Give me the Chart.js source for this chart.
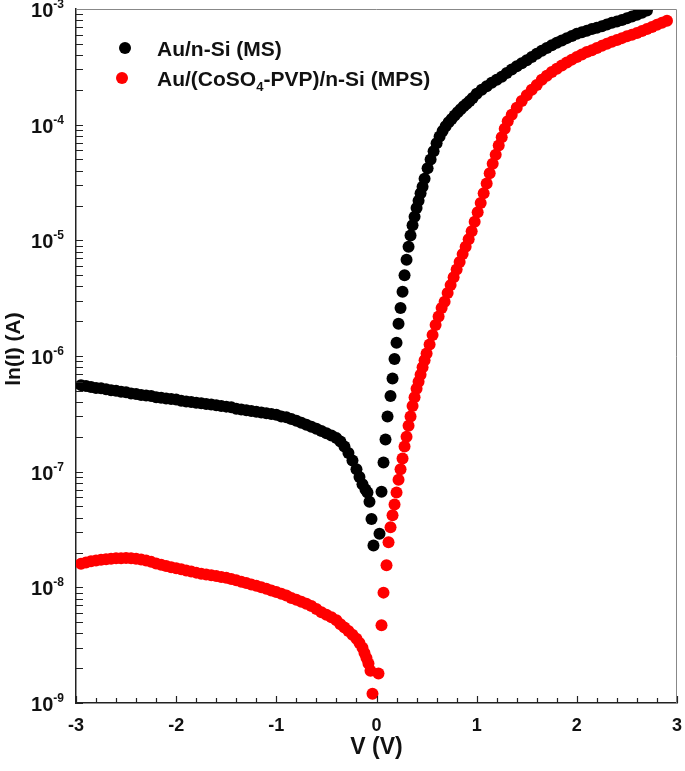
<!DOCTYPE html>
<html>
<head>
<meta charset="utf-8">
<script src="https://cdn.jsdelivr.net/npm/chart.js@4.4.1/dist/chart.umd.min.js"></script>
<style>
  html, body { margin: 0; padding: 0; background: #fff; }
  #wrap { width: 685px; height: 771px; }
</style>
</head>
<body>
<div id="wrap"><canvas id="ivChart" width="685" height="771"></canvas></div>
<script>
// Au/n-Si (MS) - voltage (V) and current (A)
const vMS = [-2.95, -2.90, -2.85, -2.80, -2.75, -2.70, -2.65, -2.60, -2.55, -2.50,
  -2.45, -2.40, -2.35, -2.30, -2.25, -2.20, -2.15, -2.10, -2.05, -2.00,
  -1.95, -1.90, -1.85, -1.80, -1.75, -1.70, -1.65, -1.60, -1.55, -1.50,
  -1.45, -1.40, -1.35, -1.30, -1.25, -1.20, -1.15, -1.10, -1.05, -1.00,
  -0.95, -0.90, -0.85, -0.80, -0.75, -0.70, -0.65, -0.60, -0.55, -0.50,
  -0.45, -0.40, -0.36, -0.32, -0.28, -0.24, -0.20, -0.17, -0.14, -0.11,
  -0.09, -0.07, -0.05, -0.03, 0.03, 0.05, 0.07, 0.09, 0.11, 0.14,
  0.16, 0.18, 0.20, 0.22, 0.24, 0.26, 0.28, 0.30, 0.32, 0.34,
  0.36, 0.38, 0.40, 0.42, 0.44, 0.46, 0.48, 0.51, 0.54, 0.57,
  0.60, 0.63, 0.66, 0.69, 0.72, 0.75, 0.78, 0.81, 0.84, 0.87,
  0.90, 0.93, 0.96, 1.00, 1.05, 1.10, 1.15, 1.20, 1.25, 1.30,
  1.35, 1.40, 1.45, 1.50, 1.55, 1.60, 1.65, 1.70, 1.75, 1.80,
  1.85, 1.90, 1.95, 2.00, 2.05, 2.10, 2.15, 2.20, 2.25, 2.30,
  2.35, 2.40, 2.45, 2.50, 2.55, 2.60, 2.65, 2.70];
const iMS = [5.6e-7, 5.5e-7, 5.4e-7, 5.3e-7, 5.25e-7, 5.15e-7, 5.05e-7, 5.0e-7, 4.9e-7, 4.85e-7,
  4.75e-7, 4.7e-7, 4.6e-7, 4.55e-7, 4.5e-7, 4.4e-7, 4.35e-7, 4.3e-7, 4.25e-7, 4.2e-7,
  4.1e-7, 4.05e-7, 4.0e-7, 3.95e-7, 3.9e-7, 3.85e-7, 3.8e-7, 3.75e-7, 3.7e-7, 3.65e-7,
  3.6e-7, 3.5e-7, 3.45e-7, 3.4e-7, 3.35e-7, 3.3e-7, 3.25e-7, 3.2e-7, 3.15e-7, 3.1e-7,
  3.0e-7, 2.95e-7, 2.85e-7, 2.75e-7, 2.65e-7, 2.55e-7, 2.45e-7, 2.35e-7, 2.25e-7, 2.15e-7,
  2.05e-7, 1.95e-7, 1.82e-7, 1.65e-7, 1.45e-7, 1.25e-7, 1.05e-7, 9.0e-8, 7.8e-8, 7.0e-8,
  6.6e-8, 5.5e-8, 3.9e-8, 2.3e-8, 2.9e-8, 6.7e-8, 1.2e-7, 1.9e-7, 3.0e-7, 4.5e-7,
  6.4e-7, 9.4e-7, 1.3e-6, 1.9e-6, 2.6e-6, 3.6e-6, 5.0e-6, 6.8e-6, 8.8e-6, 1.1e-5,
  1.35e-5, 1.6e-5, 1.9e-5, 2.2e-5, 2.55e-5, 2.9e-5, 3.4e-5, 4.2e-5, 5.0e-5, 5.9e-5,
  6.9e-5, 7.9e-5, 8.8e-5, 9.7e-5, 1.05e-4, 1.12e-4, 1.2e-4, 1.28e-4, 1.36e-4, 1.44e-4,
  1.52e-4, 1.6e-4, 1.7e-4, 1.85e-4, 2.0e-4, 2.15e-4, 2.3e-4, 2.45e-4, 2.6e-4, 2.8e-4,
  3.0e-4, 3.2e-4, 3.4e-4, 3.6e-4, 3.85e-4, 4.1e-4, 4.35e-4, 4.6e-4, 4.85e-4, 5.1e-4,
  5.35e-4, 5.6e-4, 5.85e-4, 6.1e-4, 6.3e-4, 6.5e-4, 6.7e-4, 6.9e-4, 7.1e-4, 7.35e-4,
  7.6e-4, 7.8e-4, 8.05e-4, 8.3e-4, 8.6e-4, 8.9e-4, 9.3e-4, 9.7e-4];

// Au/(CoSO4-PVP)/n-Si (MPS)
const vMPS = [-2.95, -2.90, -2.85, -2.80, -2.75, -2.70, -2.65, -2.60, -2.55, -2.50,
  -2.45, -2.40, -2.35, -2.30, -2.25, -2.20, -2.15, -2.10, -2.05, -2.00,
  -1.95, -1.90, -1.85, -1.80, -1.75, -1.70, -1.65, -1.60, -1.55, -1.50,
  -1.45, -1.40, -1.35, -1.30, -1.25, -1.20, -1.15, -1.10, -1.05, -1.00,
  -0.95, -0.90, -0.85, -0.80, -0.75, -0.70, -0.65, -0.60, -0.55, -0.50,
  -0.45, -0.40, -0.36, -0.32, -0.28, -0.24, -0.20, -0.17, -0.14, -0.12,
  -0.10, -0.08, -0.06, -0.04, 0.02, 0.05, 0.07, 0.10, 0.12, 0.14,
  0.16, 0.18, 0.20, 0.22, 0.24, 0.26, 0.28, 0.30, 0.32, 0.34,
  0.36, 0.38, 0.40, 0.42, 0.44, 0.46, 0.48, 0.50, 0.53, 0.56,
  0.59, 0.62, 0.65, 0.68, 0.71, 0.74, 0.77, 0.80, 0.83, 0.86,
  0.89, 0.92, 0.95, 0.98, 1.01, 1.04, 1.07, 1.10, 1.13, 1.16,
  1.19, 1.22, 1.25, 1.28, 1.31, 1.35, 1.40, 1.45, 1.50, 1.55,
  1.60, 1.65, 1.70, 1.75, 1.80, 1.85, 1.90, 1.95, 2.00, 2.05,
  2.10, 2.15, 2.20, 2.25, 2.30, 2.35, 2.40, 2.45, 2.50, 2.55,
  2.60, 2.65, 2.70, 2.75, 2.80, 2.85, 2.90];
const iMPS = [1.6e-8, 1.64e-8, 1.68e-8, 1.71e-8, 1.73e-8, 1.75e-8, 1.77e-8, 1.78e-8, 1.78e-8, 1.79e-8,
  1.78e-8, 1.77e-8, 1.74e-8, 1.71e-8, 1.66e-8, 1.61e-8, 1.57e-8, 1.53e-8, 1.49e-8, 1.46e-8,
  1.43e-8, 1.4e-8, 1.37e-8, 1.34e-8, 1.31e-8, 1.29e-8, 1.27e-8, 1.25e-8, 1.23e-8, 1.21e-8,
  1.18e-8, 1.15e-8, 1.12e-8, 1.09e-8, 1.06e-8, 1.03e-8, 1.0e-8, 9.7e-9, 9.4e-9, 9.1e-9,
  8.8e-9, 8.5e-9, 8.1e-9, 7.8e-9, 7.5e-9, 7.2e-9, 6.9e-9, 6.5e-9, 6.1e-9, 5.8e-9,
  5.5e-9, 5.2e-9, 4.8e-9, 4.5e-9, 4.2e-9, 3.9e-9, 3.6e-9, 3.3e-9, 3.0e-9, 2.7e-9,
  2.45e-9, 2.2e-9, 1.9e-9, 1.2e-9, 1.8e-9, 4.7e-9, 9.0e-9, 1.55e-8, 2.45e-8, 3.3e-8,
  4.2e-8, 5.2e-8, 6.6e-8, 8.5e-8, 1.05e-7, 1.3e-7, 1.65e-7, 2.0e-7, 2.5e-7, 3.0e-7,
  3.7e-7, 4.4e-7, 5.2e-7, 6.0e-7, 6.9e-7, 8.0e-7, 9.2e-7, 1.05e-6, 1.26e-6, 1.52e-6,
  1.85e-6, 2.2e-6, 2.6e-6, 2.95e-6, 3.5e-6, 4.1e-6, 4.8e-6, 5.6e-6, 6.5e-6, 7.6e-6,
  8.8e-6, 1.02e-5, 1.2e-5, 1.45e-5, 1.75e-5, 2.1e-5, 2.55e-5, 3.1e-5, 3.8e-5, 4.6e-5,
  5.5e-5, 6.6e-5, 7.8e-5, 9.2e-5, 1.07e-4, 1.22e-4, 1.4e-4, 1.6e-4, 1.8e-4, 2.0e-4,
  2.2e-4, 2.45e-4, 2.65e-4, 2.85e-4, 3.05e-4, 3.25e-4, 3.45e-4, 3.65e-4, 3.85e-4, 4.05e-4,
  4.25e-4, 4.4e-4, 4.6e-4, 4.8e-4, 5.0e-4, 5.2e-4, 5.4e-4, 5.6e-4, 5.8e-4, 6.0e-4,
  6.2e-4, 6.45e-4, 6.7e-4, 7.0e-4, 7.3e-4, 7.6e-4, 7.9e-4];

const xTickLabels = ['-3', '-2', '-1', '0', '1', '2', '3'];
const yExponents = [-9, -8, -7, -6, -5, -4, -3];
const seriesNames = ['Au/n-Si (MS)', 'Au/(CoSO4-PVP)/n-Si (MPS)'];

const FONT = '"Liberation Sans", Arial, Helvetica, sans-serif';

// ticks, labels, titles and legend drawn by hand (superscripts, inward ticks)
const decorations = {
  id: 'decorations',
  afterDraw(chart) {
    const { ctx, chartArea: a, scales: { x, y } } = chart;
    ctx.save();

    // top and right frame
    ctx.strokeStyle = '#888';
    ctx.lineWidth = 1;
    ctx.beginPath();
    ctx.moveTo(a.left, a.top + 0.5);
    ctx.lineTo(a.right - 0.5, a.top + 0.5);
    ctx.lineTo(a.right - 0.5, a.bottom);
    ctx.stroke();

    ctx.strokeStyle = '#222';
    ctx.lineWidth = 1.2;
    ctx.beginPath();
    // x ticks, every 0.2 V, pointing in
    for (let k = -30; k <= 30; k += 2) {
      const px = Math.round(x.getPixelForValue(k / 10)) + 0.5;
      const len = k % 10 === 0 ? 7 : 5;
      ctx.moveTo(px, a.bottom);
      ctx.lineTo(px, a.bottom - len);
    }
    // y ticks, log decades with minors
    for (let d = -9; d < -3; d++) {
      for (let m = 1; m <= 9; m++) {
        const py = Math.round(y.getPixelForValue(m * Math.pow(10, d))) + 0.5;
        ctx.moveTo(a.left, py);
        ctx.lineTo(a.left + 7, py);
      }
    }
    ctx.stroke();

    // x tick labels
    ctx.fillStyle = '#111';
    ctx.font = 'bold 18px ' + FONT;
    ctx.textAlign = 'center';
    ctx.textBaseline = 'middle';
    xTickLabels.forEach(t => {
      ctx.fillText(t, x.getPixelForValue(Number(t)), a.bottom + 23);
    });

    // y tick labels 10^n
    yExponents.forEach(e => {
      const py = y.getPixelForValue(Math.pow(10, e));
      ctx.font = 'bold 12px ' + FONT;
      const ew = ctx.measureText(String(e)).width;
      const right = a.left - 12;
      ctx.textAlign = 'left';
      ctx.textBaseline = 'alphabetic';
      ctx.fillText(String(e), right - ew, py - 1);
      ctx.font = 'bold 20px ' + FONT;
      ctx.textAlign = 'right';
      ctx.fillText('10', right - ew, py + 8);
    });

    // axis titles
    ctx.textAlign = 'center';
    ctx.textBaseline = 'middle';
    ctx.font = 'bold 23px ' + FONT;
    ctx.fillText('V (V)', x.getPixelForValue(0), 748);
    ctx.save();
    ctx.font = 'bold 21px ' + FONT;
    ctx.translate(14, 349);
    ctx.rotate(-Math.PI / 2);
    ctx.fillText('ln(I) (A)', 0, 0);
    ctx.restore();

    // legend
    const items = [
      { color: '#000', cx: 125, cy: 48 },
      { color: '#f00', cx: 122, cy: 78 }
    ];
    items.forEach(it => {
      ctx.fillStyle = it.color;
      ctx.beginPath();
      ctx.arc(it.cx, it.cy, 6, 0, Math.PI * 2);
      ctx.fill();
    });
    ctx.fillStyle = '#111';
    ctx.textAlign = 'left';
    ctx.textBaseline = 'alphabetic';
    ctx.font = 'bold 21px ' + FONT;
    ctx.fillText(seriesNames[0], 157, 56);
    // second name with subscript 4
    let tx = 157;
    const parts = seriesNames[1].split('4');
    ctx.fillText(parts[0], tx, 86);
    tx += ctx.measureText(parts[0]).width;
    ctx.font = 'bold 13px ' + FONT;
    ctx.fillText('4', tx, 91);
    tx += ctx.measureText('4').width;
    ctx.font = 'bold 21px ' + FONT;
    ctx.fillText(parts[1], tx, 86);

    ctx.restore();
  }
};

const ctx = document.getElementById('ivChart').getContext('2d');
new Chart(ctx, {
  type: 'scatter',
  data: {
    datasets: [
      {
        label: seriesNames[0],
        data: vMS.map((v, i) => ({ x: v, y: iMS[i] })),
        backgroundColor: '#000',
        borderWidth: 0,
        pointRadius: 6
      },
      {
        label: seriesNames[1],
        data: vMPS.map((v, i) => ({ x: v, y: iMPS[i] })),
        backgroundColor: '#f00',
        borderWidth: 0,
        pointRadius: 6
      }
    ]
  },
  options: {
    responsive: false,
    animation: false,
    layout: { padding: { left: 76, right: 8, top: 9, bottom: 68 } },
    plugins: { legend: { display: false }, tooltip: { enabled: false } },
    scales: {
      x: {
        type: 'linear', min: -3, max: 3,
        ticks: { display: false },
        grid: { display: false, drawTicks: false },
        border: { color: '#222', width: 1.5 }
      },
      y: {
        type: 'logarithmic', min: 1e-9, max: 1e-3,
        ticks: { display: false },
        grid: { display: false, drawTicks: false },
        border: { color: '#222', width: 1.5 }
      }
    }
  },
  plugins: [decorations]
});
</script>
</body>
</html>
